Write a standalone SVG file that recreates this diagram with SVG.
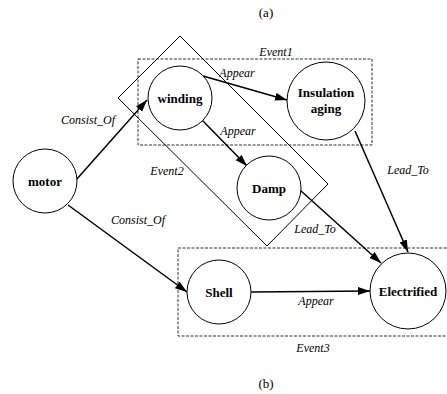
<svg xmlns="http://www.w3.org/2000/svg" width="447" height="394" viewBox="0 0 447 394" font-family="'Liberation Serif', 'Times New Roman', 'DejaVu Serif', serif">
<style>
.node circle{fill:#fff;stroke:#000;stroke-width:1}
.node text{font-weight:bold;font-size:13px;text-anchor:middle}
.lbl{font-style:italic;font-size:12px;text-anchor:middle}
.cap{font-size:13px;text-anchor:middle}
.box{fill:none;stroke:#333;stroke-width:1;stroke-dasharray:3,1.5}
.diam{fill:none;stroke:#000;stroke-width:1}
.edge{stroke:#000;stroke-width:1.5;fill:none;marker-end:url(#ah)}
</style>
<defs>
<marker id="ah" markerUnits="userSpaceOnUse" markerWidth="13" markerHeight="9" refX="12" refY="4" orient="auto">
<path d="M0,0 L12,4 L0,8 z" fill="#000"/>
</marker>
</defs>
<rect width="447" height="394" fill="#fff"/>
<text class="cap" x="266" y="17">(a)</text>
<text class="cap" x="266" y="388">(b)</text>
<g id="groups">
<rect class="box" x="138" y="59" width="234" height="86"/>
<text class="lbl" x="276" y="56">Event1</text>
<polygon class="diam" points="180,36 328,184 267,246 118,98"/>
<text class="lbl" x="167" y="175">Event2</text>
<rect class="box" x="178" y="248" width="272" height="88"/>
<text class="lbl" x="313" y="352">Event3</text>
</g>
<g id="connectors">
<line class="edge" x1="76" y1="180" x2="147" y2="100"/>
<line class="edge" x1="68" y1="205" x2="187" y2="292"/>
<line class="edge" x1="203" y1="76" x2="287" y2="100"/>
<line class="edge" x1="202" y1="120" x2="247" y2="166"/>
<line class="edge" x1="300" y1="190" x2="381" y2="263"/>
<line class="edge" x1="355" y1="131" x2="408" y2="252"/>
<line class="edge" x1="251" y1="292" x2="370" y2="291"/>
<text class="lbl" x="88" y="124">Consist_Of</text>
<text class="lbl" x="138" y="224">Consist_Of</text>
<text class="lbl" x="237" y="77">Appear</text>
<text class="lbl" x="238" y="135">Appear</text>
<text class="lbl" x="316" y="305">Appear</text>
<text class="lbl" x="408" y="174">Lead_To</text>
<text class="lbl" x="315" y="233">Lead_To</text>
</g>
<g id="motor" class="node"><circle cx="45" cy="181" r="32"/><text x="45" y="186">motor</text></g>
<g id="winding" class="node"><circle cx="180" cy="98" r="32"/><text x="180" y="103">winding</text></g>
<g id="insulation" class="node"><circle cx="326" cy="101" r="39"/><text x="326" y="97">Insulation</text><text x="326" y="113">aging</text></g>
<g id="damp" class="node"><circle cx="269" cy="188" r="32"/><text x="269" y="193">Damp</text></g>
<g id="shell" class="node"><circle cx="219" cy="292" r="32"/><text x="219" y="297">Shell</text></g>
<g id="electrified" class="node"><circle cx="408" cy="291" r="38"/><text x="408" y="296">Electrified</text></g>
</svg>
